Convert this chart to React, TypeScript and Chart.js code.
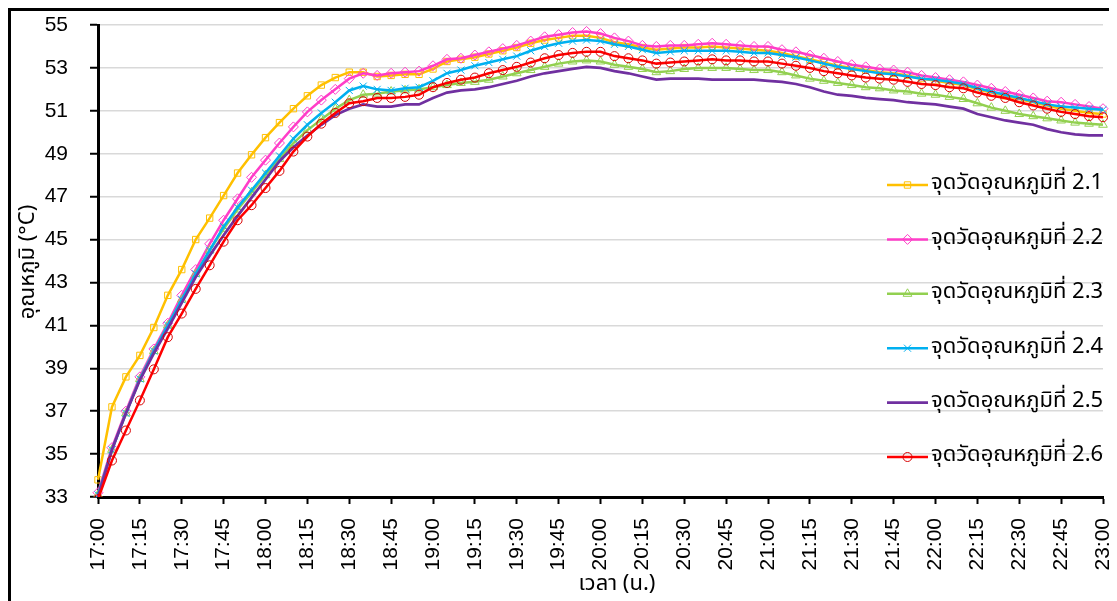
import React, { useEffect, useRef } from "react";
import { Chart, registerables } from "chart.js";
import { drawPoint } from "chart.js/helpers";

Chart.register(...registerables);

// ---- categories (5-minute readings) ----
const times = [
  "17:00","17:05","17:10","17:15","17:20","17:25","17:30","17:35","17:40","17:45","17:50","17:55",
  "18:00","18:05","18:10","18:15","18:20","18:25","18:30","18:35","18:40","18:45","18:50","18:55",
  "19:00","19:05","19:10","19:15","19:20","19:25","19:30","19:35","19:40","19:45","19:50","19:55",
  "20:00","20:05","20:10","20:15","20:20","20:25","20:30","20:35","20:40","20:45","20:50","20:55",
  "21:00","21:05","21:10","21:15","21:20","21:25","21:30","21:35","21:40","21:45","21:50","21:55",
  "22:00","22:05","22:10","22:15","22:20","22:25","22:30","22:35","22:40","22:45","22:50","22:55",
  "23:00",
];

// ---- tick labels ----
const timeTicks = [
  "17:00","17:15","17:30","17:45","18:00","18:15","18:30","18:45",
  "19:00","19:15","19:30","19:45","20:00","20:15","20:30","20:45",
  "21:00","21:15","21:30","21:45","22:00","22:15","22:30","22:45","23:00",
];
const tempTicks = [33, 35, 37, 39, 41, 43, 45, 47, 49, 51, 53, 55];

// ---- series labels ----
const seriesNames = [
  "จุดวัดอุณหภูมิที่ 2.1",
  "จุดวัดอุณหภูมิที่ 2.2",
  "จุดวัดอุณหภูมิที่ 2.3",
  "จุดวัดอุณหภูมิที่ 2.4",
  "จุดวัดอุณหภูมิที่ 2.5",
  "จุดวัดอุณหภูมิที่ 2.6",
];

// ---- series values (°C) ----
const point21 = [
  33.8, 37.2, 38.6, 39.6, 40.9, 42.4, 43.6, 45.0, 46.0, 47.05, 48.1, 48.95,
  49.75, 50.45, 51.1, 51.7, 52.2, 52.55, 52.8, 52.8, 52.6, 52.65, 52.7, 52.7,
  52.95, 53.3, 53.4, 53.5, 53.65, 53.8, 53.95, 54.15, 54.3, 54.4, 54.5, 54.5,
  54.4, 54.2, 54.1, 53.95, 53.85, 53.9, 53.95, 53.95, 54.0, 53.95, 53.9, 53.85,
  53.8, 53.7, 53.55, 53.4, 53.25, 53.1, 53.0, 52.9, 52.8, 52.75, 52.65, 52.5,
  52.4, 52.3, 52.2, 52.0, 51.85, 51.7, 51.55, 51.4, 51.25, 51.1, 51.0, 50.9,
  50.85,
];
const point22 = [
  33.2, 35.3, 37.0, 38.6, 39.9, 41.1, 42.4, 43.6, 44.8, 45.9, 46.9, 47.9,
  48.7, 49.5, 50.25, 50.95, 51.5, 52.0, 52.5, 52.75, 52.65, 52.75, 52.8, 52.85,
  53.1, 53.4, 53.45, 53.6, 53.75, 53.9, 54.05, 54.25, 54.45, 54.55, 54.65, 54.7,
  54.6, 54.4, 54.25, 54.05, 54.0, 54.05, 54.05, 54.1, 54.15, 54.1, 54.05, 54.0,
  54.0, 53.85, 53.75, 53.6, 53.45, 53.3, 53.15, 53.05, 52.95, 52.9, 52.8, 52.65,
  52.55, 52.45, 52.35, 52.2, 52.05, 51.9, 51.75, 51.6, 51.45, 51.4, 51.3, 51.2,
  51.1,
];
const point23 = [
  33.1, 35.2, 36.9, 38.5, 39.8, 41.0, 42.2, 43.4, 44.5, 45.5, 46.4, 47.2,
  48.0, 48.75, 49.5, 50.1, 50.6, 51.1, 51.5, 51.75, 51.8, 51.9, 51.95, 52.0,
  52.1, 52.2, 52.3, 52.35, 52.45, 52.6, 52.75, 52.9, 53.05, 53.2, 53.3, 53.35,
  53.3, 53.15, 53.05, 52.95, 52.8, 52.85, 52.95, 53.0, 53.0, 53.0, 52.95, 52.9,
  52.9, 52.8, 52.65, 52.5, 52.4, 52.3, 52.2, 52.1, 52.05, 51.95, 51.9, 51.8,
  51.75, 51.65, 51.55, 51.35, 51.15, 51.0, 50.85, 50.75, 50.65, 50.55, 50.45, 50.4,
  50.35,
];
const point24 = [
  33.1, 35.2, 36.9, 38.5, 39.8, 41.0, 42.2, 43.4, 44.5, 45.6, 46.5, 47.3,
  48.1, 48.9, 49.7, 50.35, 50.9, 51.4, 51.95, 52.15, 52.0, 51.95, 52.05, 52.1,
  52.4, 52.75, 52.9, 53.1, 53.25, 53.4, 53.55, 53.8, 54.0, 54.15, 54.25, 54.3,
  54.25, 54.1, 54.0, 53.85, 53.7, 53.75, 53.8, 53.8, 53.8, 53.8, 53.75, 53.7,
  53.7, 53.6, 53.5, 53.35, 53.2, 53.05, 52.95, 52.85, 52.75, 52.7, 52.6, 52.5,
  52.45, 52.35, 52.25, 52.05, 51.9, 51.75, 51.6, 51.45, 51.3, 51.2, 51.15, 51.1,
  51.05,
];
const point25 = [
  33.0, 35.2, 36.9, 38.45, 39.7, 40.85, 42.05, 43.25, 44.25, 45.2, 46.1, 46.95,
  47.8, 48.65, 49.3, 49.85, 50.35, 50.8, 51.1, 51.3, 51.2, 51.2, 51.3, 51.3,
  51.6, 51.85, 51.95, 52.0, 52.1, 52.25, 52.4, 52.6, 52.75, 52.85, 52.95, 53.05,
  53.0, 52.85, 52.75, 52.6, 52.45, 52.5, 52.5, 52.5, 52.45, 52.45, 52.45, 52.45,
  52.4, 52.35, 52.25, 52.1, 51.9, 51.75, 51.7, 51.6, 51.55, 51.5, 51.4, 51.35,
  51.3, 51.2, 51.1, 50.85, 50.7, 50.55, 50.45, 50.35, 50.15, 50.0, 49.9, 49.85,
  49.85,
];
const point26 = [
  32.9, 34.7, 36.1, 37.5, 38.95, 40.45, 41.55, 42.7, 43.8, 44.9, 45.9, 46.6,
  47.4, 48.2, 49.1, 49.8, 50.4, 50.9, 51.35, 51.45, 51.6, 51.6, 51.65, 51.75,
  52.1, 52.3, 52.45, 52.55, 52.75, 52.9, 53.05, 53.25, 53.45, 53.6, 53.7, 53.75,
  53.75, 53.55, 53.45, 53.35, 53.2, 53.25, 53.3, 53.35, 53.4, 53.35, 53.35, 53.3,
  53.3, 53.2, 53.1, 53.0, 52.85, 52.75, 52.65, 52.55, 52.5, 52.45, 52.35, 52.25,
  52.2, 52.1, 52.05, 51.85, 51.7, 51.6, 51.4, 51.25, 51.1, 50.95, 50.85, 50.75,
  50.7,
];

const seriesValues = [point21, point22, point23, point24, point25, point26];
const lineColors = ["#FFC000", "#FF3DC8", "#92D050", "#00B0F0", "#7030A0", "#FF0000"];
const markerColors = ["#FFC000", "#FF3DC8", "#92D050", "#00B0F0", "#7030A0", "#D80000"];
const markerStyles = ["rect", "rectRot", "triangle", "crossRot", "circle", "circle"];
const markerRadius = [4.5, 5, 5, 5, 0, 4.5];

const yTitle = "อุณหภูมิ (°C)";
const xTitle = "เวลา (น.)";

const THAI_FONT = "'Noto Sans Thai', 'Noto Sans Thai UI', Tahoma, 'Noto Sans', sans-serif";
const TICK_FONT = "'Liberation Sans', Arial, sans-serif";

const overlayPlugin = {
  id: "overlay",
  afterDraw(chart: any) {
    const ctx = chart.ctx as CanvasRenderingContext2D;
    ctx.save();
    // legend inside plot area
    const top = 174;
    const gap = 54.4;
    const x0 = 876;
    const x1 = 917;
    chart.data.datasets.forEach((ds: any, i: number) => {
      const y = top + i * gap;
      ctx.strokeStyle = ds.borderColor;
      ctx.lineWidth = ds.borderWidth;
      ctx.beginPath();
      ctx.moveTo(x0, y);
      ctx.lineTo(x1, y);
      ctx.stroke();
      if (ds.pointRadius > 0) {
        ctx.strokeStyle = ds.pointBorderColor;
        ctx.fillStyle = "rgba(255,255,255,0)";
        ctx.lineWidth = ds.pointBorderWidth;
        drawPoint(
          ctx,
          { pointStyle: ds.pointStyle, radius: ds.pointRadius, borderWidth: ds.pointBorderWidth, rotation: 0 } as any,
          (x0 + x1) / 2,
          y
        );
      }
      ctx.fillStyle = "#000";
      ctx.font = `22px ${THAI_FONT}`;
      ctx.textAlign = "left";
      ctx.textBaseline = "middle";
      ctx.fillText(ds.label, x1 + 3, y);
    });
    // axis titles
    ctx.fillStyle = "#000";
    ctx.font = `22px ${THAI_FONT}`;
    ctx.textAlign = "center";
    ctx.textBaseline = "middle";
    ctx.fillText(xTitle, 606, 575);
    ctx.translate(19, 251);
    ctx.rotate(-Math.PI / 2);
    ctx.fillText(yTitle, 0, 0);
    ctx.restore();
  },
};

export default function App() {
  const canvasRef = useRef<HTMLCanvasElement | null>(null);

  useEffect(() => {
    const canvas = canvasRef.current;
    if (!canvas) return;
    const datasets = seriesValues.map((vals, i) => ({
      label: seriesNames[i],
      data: vals,
      borderColor: lineColors[i],
      backgroundColor: lineColors[i],
      borderWidth: i === 4 ? 2.75 : 2.5,
      pointStyle: markerStyles[i],
      pointRadius: markerRadius[i],
      pointBorderColor: markerColors[i],
      pointBackgroundColor: "rgba(255,255,255,0)",
      pointBorderWidth: 1,
      tension: 0,
      order: seriesValues.length - 1 - i,
    }));

    const chart = new Chart(canvas, {
      type: "line",
      data: { labels: times, datasets },
      options: {
        responsive: false,
        animation: false,
        devicePixelRatio: 1,
        layout: { padding: { left: 0, right: 10, top: 14, bottom: 0 } },
        plugins: {
          legend: { display: false },
          tooltip: { enabled: false },
        },
        scales: {
          x: {
            type: "category",
            offset: false,
            afterBuildTicks: (axis: any) => {
              axis.ticks = timeTicks.map((t) => ({ value: times.indexOf(t) }));
            },
            afterFit: (axis: any) => {
              axis.height = 104;
              axis.paddingLeft = 0;
              axis.paddingRight = 0;
            },
            grid: {
              display: true,
              drawOnChartArea: false,
              drawTicks: true,
              tickColor: "#000",
              tickLength: 7,
              tickWidth: 2,
            },
            border: { display: true, color: "#000", width: 3 },
            ticks: {
              autoSkip: false,
              maxRotation: 90,
              minRotation: 90,
              padding: 14,
              color: "#000",
              font: { family: TICK_FONT, size: 21 },
            },
          },
          y: {
            type: "linear",
            min: 33,
            max: 55,
            afterBuildTicks: (axis: any) => {
              axis.ticks = tempTicks.map((v) => ({ value: v }));
            },
            afterFit: (axis: any) => {
              axis.width = 87;
              axis.paddingTop = 0;
              axis.paddingBottom = 0;
            },
            grid: {
              color: "#D9D9D9",
              lineWidth: 1.5,
              tickColor: "#000",
              tickLength: 8,
              tickWidth: 2,
            },
            border: { display: true, color: "#000", width: 3 },
            ticks: {
              padding: 22,
              color: "#000",
              font: { family: TICK_FONT, size: 21 },
            },
          },
        },
      },
      plugins: [overlayPlugin],
    } as any);

    return () => chart.destroy();
  }, []);

  return (
    <div
      style={{
        position: "relative",
        width: 1102,
        height: 590,
        borderTop: "3px solid #000",
        borderLeft: "3px solid #000",
        borderRight: "3px solid #000",
        background: "#fff",
      }}
    >
      <canvas ref={canvasRef} width={1102} height={590} style={{ display: "block", width: 1102, height: 590 }} />
    </div>
  );
}
